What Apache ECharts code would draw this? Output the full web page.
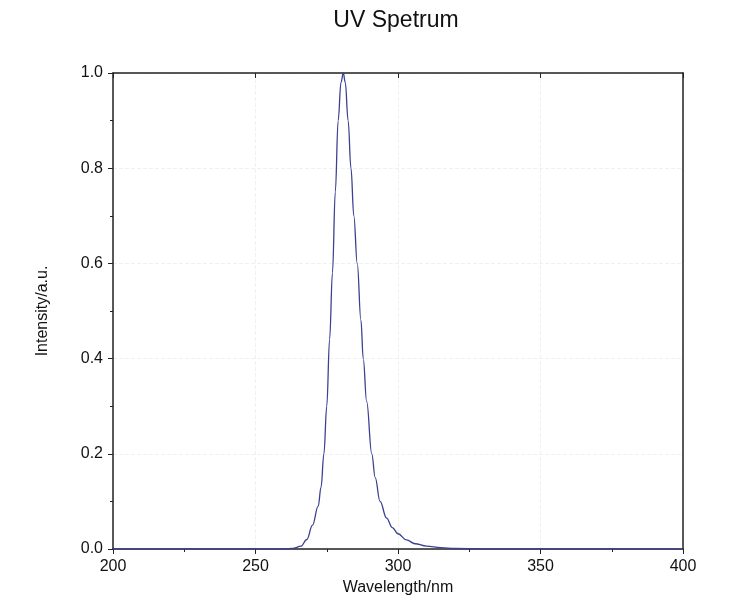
<!DOCTYPE html>
<html><head><meta charset="utf-8">
<script src="https://cdn.jsdelivr.net/npm/echarts@6/dist/echarts.min.js"></script>
<style>html,body{margin:0;background:#fff}#c{width:750px;height:612px}</style>
</head><body><div id="c"></div>
<script>
const wavelengths = [200,260,263,266,268,270,272,273,274,275,276,277,278,279,280,280.8,281.5,282.5,283.5,284.5,285.7,287,287.8,289,290.8,292,293.7,296,298,300,303,306,310,315,320,330,400];
const intensity = [0,0,0.001,0.006,0.02,0.05,0.09,0.13,0.2,0.3,0.44,0.58,0.75,0.9,0.98,1.0,0.98,0.9,0.8,0.7,0.6,0.48,0.4,0.31,0.2,0.15,0.1,0.065,0.045,0.032,0.019,0.011,0.006,0.003,0.001,0,0];
const xTicks = [200,250,300,350,400];
const chart = echarts.init(document.getElementById('c'));
const font = 'Liberation Sans, Arial, sans-serif';
const axisCommon = {
  axisLine:{show:true,onZero:false,lineStyle:{color:'#222',width:1.5}},
  axisTick:{show:true,length:5,lineStyle:{color:'#222'}},
  minorTick:{show:true,splitNumber:2,length:3,lineStyle:{color:'#222'}}
};
chart.setOption({
  animation:false,
  title:{text:'UV Spetrum',left:391,textAlign:'center',top:4,textStyle:{fontFamily:font,fontSize:23,fontWeight:'normal',color:'#111'}},
  grid:{left:113,right:67,top:73,bottom:63},
  xAxis:[Object.assign({type:'value',min:200,max:400,interval:50,position:'bottom',
    name:'Wavelength/nm',nameLocation:'middle',nameGap:28,nameTextStyle:{fontFamily:font,fontSize:16,color:'#111'},
    axisLabel:{fontFamily:font,fontSize:16,color:'#111',margin:10,formatter:v=>xTicks.includes(v)?String(v):''},
    splitLine:{show:true,lineStyle:{color:'#f0f0f0',type:'dashed'}}},axisCommon),
    Object.assign({type:'value',min:200,max:400,interval:50,position:'top',axisLabel:{show:false},splitLine:{show:false}},axisCommon,{axisTick:{show:true,inside:true,length:5,lineStyle:{color:'#222'}},minorTick:{show:false}})],
  yAxis:[Object.assign({type:'value',min:0,max:1,interval:0.2,position:'left',
    name:'Intensity/a.u.',nameLocation:'middle',nameGap:62,nameTextStyle:{fontFamily:font,fontSize:16,color:'#111'},
    axisLabel:{fontFamily:font,fontSize:16,color:'#111',margin:10,formatter:v=>v.toFixed(1)},
    splitLine:{show:true,lineStyle:{color:'#f0f0f0',type:'dashed'}}},axisCommon),
    Object.assign({type:'value',min:0,max:1,interval:0.2,position:'right',axisLabel:{show:false},splitLine:{show:false}},axisCommon,{axisTick:{show:false},minorTick:{show:false}})],
  series:[{type:'line',data:wavelengths.map((w,i)=>[w,intensity[i]]),smooth:0.4,smoothMonotone:'x',showSymbol:false,
    lineStyle:{color:'#3b4090',width:1.3}}]
});
</script></body></html>
